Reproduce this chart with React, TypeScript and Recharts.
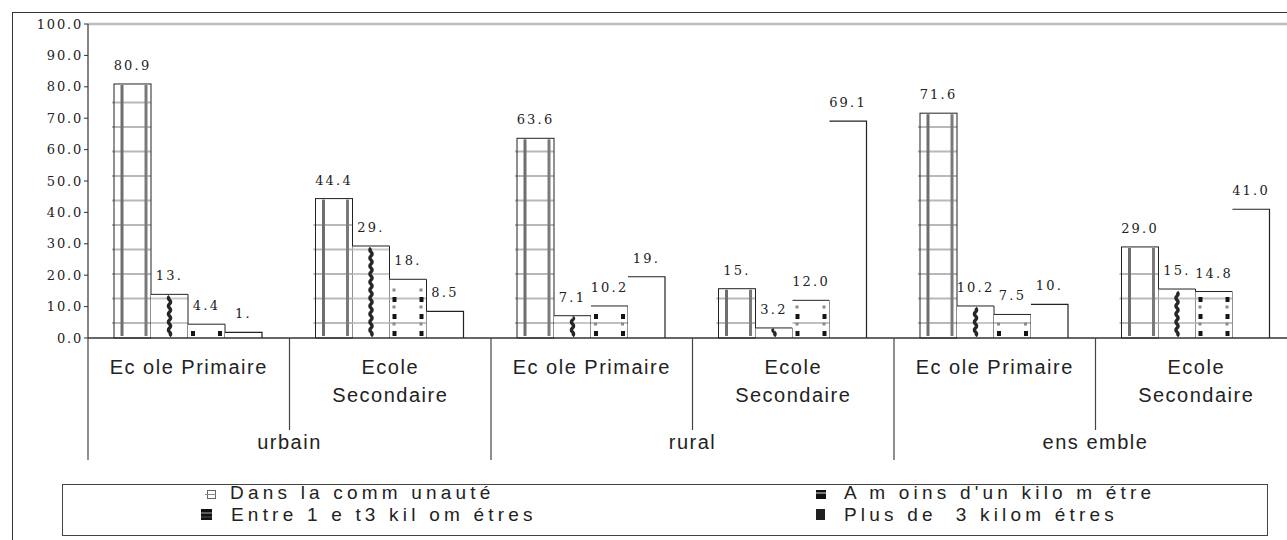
import React from "react";
import { BarChart, Bar, XAxis, YAxis, ReferenceLine, LabelList, Legend } from "recharts";

// Sub-category labels (bottom row) and the main groups (second row)
const subLabels = [
  "Ec ole Primaire",
  "Ecole\nSecondaire",
  "Ec ole Primaire",
  "Ecole\nSecondaire",
  "Ec ole Primaire",
  "Ecole\nSecondaire",
];
const groupLabels = ["urbain", "rural", "ens emble"];

// Series names
const seriesNames = [
  "Dans la comm unauté",
  "A m oins d'un kilo m étre",
  "Entre 1 e t3 kil om étres",
  "Plus de  3 kilom étres",
];

// Values (%) per sub-category
const dansCommunaute = [80.9, 44.4, 63.6, 15.7, 71.6, 29.0];
const moinsUnKm = [13.9, 29.3, 7.1, 3.2, 10.2, 15.6];
const entre1et3Km = [4.4, 18.7, 10.2, 12.0, 7.5, 14.8];
const plusDe3Km = [1.8, 8.5, 19.5, 69.1, 10.7, 41.0];

// Printed value labels (some are cut short in the printout)
const dansLabels = ["80.9", "44.4", "63.6", "15.", "71.6", "29.0"];
const moinsLabels = ["13.", "29.", "7.1", "3.2", "10.2", "15."];
const entreLabels = ["4.4", "18.", "10.2", "12.0", "7.5", "14.8"];
const plusLabels = ["1.", "8.5", "19.", "69.1", "10.", "41.0"];

const yTicks = [0, 10, 20, 30, 40, 50, 60, 70, 80, 90, 100];

const data = subLabels.map((s, i) => ({
  key: `k${i}`,
  sub: s,
  v0: dansCommunaute[i],
  v1: moinsUnKm[i],
  v2: entre1et3Km[i],
  v3: plusDe3Km[i],
  l0: dansLabels[i],
  l1: moinsLabels[i],
  l2: entreLabels[i],
  l3: plusLabels[i],
}));

const SERIF = "'DejaVu Serif', 'Liberation Serif', serif";
const SANS = "'Liberation Sans', Arial, sans-serif";
const INK = "#222";

// light horizontal hatch lines, anchored on the bar baseline
function hatch(x: number, y: number, w: number, h: number, color: string, extend = 0) {
  const out: React.ReactNode[] = [];
  for (let yy = y + h - 15; yy > y + 3; yy -= 24.5) {
    out.push(
      <line key={`h${yy}`} x1={x - extend} x2={x + w} y1={yy} y2={yy} stroke={color} strokeWidth={2.2} />
    );
  }
  return out;
}

function GridBar(props: any) {
  const { x, y, width: w, height: h } = props;
  if (!h || h <= 0) return null;
  return (
    <g>
      <rect x={x} y={y} width={w} height={h} fill="#fff" />
      {hatch(x, y, w, h, "#b8b8b8", 2)}
      <line x1={x + 8} x2={x + 8} y1={y + 1} y2={y + h - 2} stroke="#6e6e6e" strokeWidth={3} />
      <line x1={x + w - 5} x2={x + w - 5} y1={y + 1} y2={y + h - 2} stroke="#7a7a7a" strokeWidth={3} />
      <rect x={x} y={y} width={w} height={h} fill="none" stroke={INK} strokeWidth={1} />
    </g>
  );
}

function WavyBar(props: any) {
  const { x, y, width: w, height: h } = props;
  if (!h || h <= 0) return null;
  const cx = x + w / 2;
  let d = `M${cx} ${y + h - 2}`;
  let side = 1;
  for (let yy = y + h - 2; yy > y + 3; yy -= 4) {
    const ny = Math.max(yy - 4, y + 2);
    d += ` Q${cx + side * 2.2} ${yy - 2} ${cx} ${ny}`;
    side = -side;
  }
  return (
    <g>
      <rect x={x} y={y} width={w} height={h} fill="#fff" />
      {hatch(x, y, w, h, "#c8c8c8")}
      <path d={d} fill="none" stroke="#262626" strokeWidth={3.4} />
      <path d={`M${x} ${y} H${x + w} V${y + h}`} fill="none" stroke={INK} strokeWidth={1} />
    </g>
  );
}

function DottedBar(props: any) {
  const { x, y, width: w, height: h } = props;
  if (!h || h <= 0) return null;
  const dots: React.ReactNode[] = [];
  let k = 0;
  for (let yy = y + h - 7; yy > y + 2; yy -= 8.5) {
    const dark = k % 2 === 0;
    [x + 3, x + w - 7].forEach((dx, j) =>
      dots.push(
        <rect key={`d${k}-${j}`} x={dx} y={yy} width={dark ? 4 : 3} height={dark ? 5 : 3} fill={dark ? "#151515" : "#8a8a8a"} />
      )
    );
    k++;
  }
  return (
    <g>
      <rect x={x} y={y} width={w} height={h} fill="#fff" />
      {hatch(x, y, w, h, "#c0c0c0")}
      {dots}
      <path d={`M${x} ${y} H${x + w} V${y + h}`} fill="none" stroke={INK} strokeWidth={1} />
    </g>
  );
}

function OpenBar(props: any) {
  const { x, y, width: w, height: h } = props;
  if (!h || h <= 0) return null;
  return (
    <g>
      <rect x={x} y={y} width={w} height={h} fill="#fff" />
      <path d={`M${x} ${y} H${x + w} V${y + h}`} fill="none" stroke={INK} strokeWidth={1.2} />
    </g>
  );
}

function valueLabel(props: any) {
  const { x, y, width, value } = props;
  return (
    <text
      x={x + width / 2}
      y={y - 14}
      textAnchor="middle"
      fontFamily={SERIF}
      fontSize={13}
      letterSpacing={2.2}
      fill={INK}
    >
      {value}
    </text>
  );
}

function YTick(props: any) {
  const { x, y, payload } = props;
  return (
    <text x={x} y={y} dy="0.36em" textAnchor="end" fontFamily={SERIF} fontSize={13} letterSpacing={1.8} fill={INK}>
      {Number(payload.value).toFixed(1)}
    </text>
  );
}

function CategoryTick(props: any) {
  const { x, y, payload, width, visibleTicksCount } = props;
  const index: number = payload?.index ?? props.index ?? 0;
  const band = width && visibleTicksCount ? width / visibleTicksCount : 201.5;
  const lines = subLabels[index].split("\n");
  const left = x - band / 2;
  const right = x + band / 2;
  const endsGroup = index % 2 === 1;
  const textStyle = { fontFamily: SANS, fontSize: 20, letterSpacing: 1.5, fill: INK } as const;
  return (
    <g>
      {lines.map((l, i) => (
        <text key={i} x={x} y={y + 36 + i * 28} textAnchor="middle" {...textStyle}>
          {l}
        </text>
      ))}
      <line x1={right} x2={right} y1={y} y2={y + (endsGroup ? 122 : 92)} stroke="#444" strokeWidth={1.2} />
      {index === 0 && <line x1={left} x2={left} y1={y} y2={y + 122} stroke="#444" strokeWidth={1.2} />}
      {endsGroup && (
        <text x={left} y={y + 111} textAnchor="middle" {...textStyle}>
          {groupLabels[(index - 1) / 2]}
        </text>
      )}
    </g>
  );
}

function LegendIcon({ kind }: { kind: number }) {
  if (kind === 0)
    return (
      <svg width={12} height={12}>
        <rect x={2.5} y={2.5} width={8} height={8} fill="#fff" stroke="#666" />
        <line x1={0} x2={11} y1={6.5} y2={6.5} stroke="#888" />
      </svg>
    );
  if (kind === 1)
    return (
      <svg width={12} height={12}>
        <rect x={1} y={2} width={10} height={9} fill="#111" />
        <line x1={1} x2={11} y1={5} y2={5} stroke="#ddd" strokeWidth={1} />
      </svg>
    );
  if (kind === 2)
    return (
      <svg width={12} height={13}>
        <rect x={0} y={1} width={11} height={11} fill="#111" />
        <line x1={0} x2={11} y1={5} y2={5} stroke="#777" strokeWidth={1.5} />
        <line x1={0} x2={11} y1={9} y2={9} stroke="#555" strokeWidth={1} />
      </svg>
    );
  return (
    <svg width={12} height={13}>
      <rect x={1} y={1} width={9} height={11} fill="#231f20" />
    </svg>
  );
}

function LegendBox() {
  const items = [
    { kind: 0, icon: [142, 3], text: [167, -2] },
    { kind: 1, icon: [752, 3], text: [781, -2] },
    { kind: 2, icon: [138, 23], text: [168, 20] },
    { kind: 3, icon: [752, 23], text: [781, 20] },
  ];
  return (
    <div
      style={{
        position: "relative",
        width: 1206,
        height: 52,
        boxSizing: "border-box",
        border: "1.5px solid #444",
        background: "#fff",
      }}
    >
      {items.map((it, i) => (
        <React.Fragment key={i}>
          <div style={{ position: "absolute", left: it.icon[0], top: it.icon[1], lineHeight: 0 }}>
            <LegendIcon kind={it.kind} />
          </div>
          <div
            style={{
              position: "absolute",
              left: it.text[0],
              top: it.text[1],
              height: 19,
              fontFamily: SANS,
              fontSize: 19,
              lineHeight: "19px",
              letterSpacing: 4.2,
              color: INK,
              whiteSpace: "pre",
            }}
          >
            {seriesNames[it.kind]}
          </div>
        </React.Fragment>
      ))}
    </div>
  );
}

export default function App() {
  return (
    <div style={{ position: "absolute", left: 0, top: 0, width: 1287, height: 540, overflow: "hidden", background: "#fff" }}>
      <BarChart
        width={1287}
        height={540}
        data={data}
        margin={{ top: 24, right: -10, left: 12, bottom: 72 }}
        barCategoryGap={26}
        barGap={0}
      >
        <ReferenceLine y={100} stroke="#bdbdbd" strokeWidth={2.5} />
        <XAxis
          dataKey="key"
          height={130}
          interval={0}
          tickLine={false}
          tickSize={0}
          tickMargin={0}
          axisLine={{ stroke: "#333", strokeWidth: 1.5 }}
          tick={<CategoryTick />}
        />
        <YAxis
          width={76}
          domain={[0, 100]}
          ticks={yTicks}
          interval={0}
          tickSize={4}
          tickMargin={1}
          axisLine={{ stroke: "#333", strokeWidth: 1.2 }}
          tickLine={{ stroke: "#333" }}
          tick={<YTick />}
        />
        <Legend
          layout="vertical"
          align="center"
          verticalAlign="middle"
          wrapperStyle={{ left: 62, top: 484, width: 1206, height: 52 }}
          content={() => <LegendBox />}
        />
        <Bar dataKey="v0" name={seriesNames[0]} shape={<GridBar />} isAnimationActive={false}>
          <LabelList dataKey="l0" content={valueLabel} />
        </Bar>
        <Bar dataKey="v1" name={seriesNames[1]} shape={<WavyBar />} isAnimationActive={false}>
          <LabelList dataKey="l1" content={valueLabel} />
        </Bar>
        <Bar dataKey="v2" name={seriesNames[2]} shape={<DottedBar />} isAnimationActive={false}>
          <LabelList dataKey="l2" content={valueLabel} />
        </Bar>
        <Bar dataKey="v3" name={seriesNames[3]} shape={<OpenBar />} isAnimationActive={false}>
          <LabelList dataKey="l3" content={valueLabel} />
        </Bar>
      </BarChart>
      <div
        style={{
          position: "absolute",
          left: 12,
          top: 12,
          width: 1400,
          height: 600,
          borderTop: "1.5px solid #333",
          borderLeft: "1.5px solid #333",
          pointerEvents: "none",
        }}
      />
    </div>
  );
}
